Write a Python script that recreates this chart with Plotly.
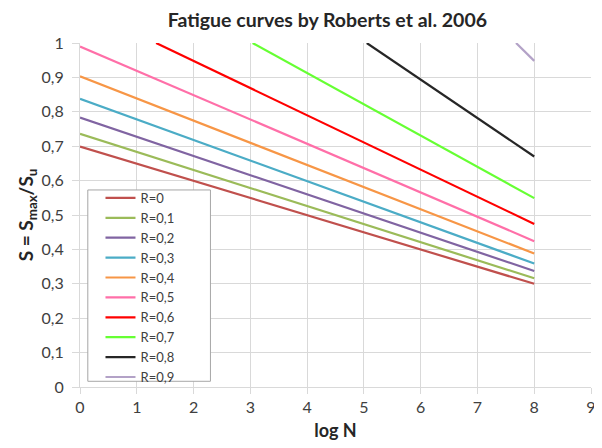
import plotly.graph_objects as go

# Data
r_labels = ["R=0", "R=0,1", "R=0,2", "R=0,3", "R=0,4", "R=0,5", "R=0,6", "R=0,7", "R=0,8", "R=0,9"]
x_start = [0, 0, 0, 0, 0, 0, 1.34, 3.04, 5.05, 7.68]
s_start = [0.699, 0.736, 0.783, 0.838, 0.903, 0.990, 1.0, 1.0, 1.0, 1.0]
x_end = [8, 8, 8, 8, 8, 8, 8, 8, 8, 8]
s_end = [0.300, 0.316, 0.337, 0.359, 0.388, 0.424, 0.474, 0.549, 0.670, 0.948]
colors = ["#C0504D", "#9BBB59", "#8064A2", "#4BACC6", "#F79646",
          "#FF6FA8", "#FF0000", "#66FF33", "#262626", "#B3A2C7"]

x_ticks = [0, 1, 2, 3, 4, 5, 6, 7, 8, 9]
y_ticks = [0, 0.1, 0.2, 0.3, 0.4, 0.5, 0.6, 0.7, 0.8, 0.9, 1]
y_ticktext = ["0", "0,1", "0,2", "0,3", "0,4", "0,5", "0,6", "0,7", "0,8", "0,9", "1"]

FONT = "Lato, 'Open Sans', sans-serif"
TXT = "#404040"
DARK = "#262626"

fig = go.Figure()
for name, xs, ys, xe, ye, c in zip(r_labels, x_start, s_start, x_end, s_end, colors):
    fig.add_trace(go.Scatter(x=[xs, xe], y=[ys, ye], mode="lines", name=name,
                             line=dict(color=c, width=2.2)))

# page body has an 8px margin; work in window pixels and convert
OFF = 8
W, H = 590, 436
PL, PR, PT, PB = 79.5, 590.7, 43.3, 386.7  # plot area in window pixels
L, T = PL - OFF, PT - OFF
R = W - (PR - OFF)
B = H - (PB - OFF)
pw, ph = PR - PL, PB - PT

def px_x(px):
    return (px - PL) / pw

def px_y(py):
    return (PB - py) / ph

fig.add_shape(type="rect", xref="paper", yref="paper",
              x0=px_x(87.3), x1=px_x(210), y0=px_y(381), y1=px_y(190),
              line=dict(color="#A6A6A6", width=1), fillcolor="white", layer="above")

fig.update_layout(
    width=W, height=H,
    margin=dict(l=L, r=R, t=T, b=B, pad=0, autoexpand=False),
    paper_bgcolor="white", plot_bgcolor="white",
    font=dict(family=FONT, size=16, color=TXT),
    title=dict(text="<b>Fatigue curves by Roberts et al. 2006</b>",
               x=px_x(327), xref="paper", xanchor="center",
               y=1 - (20 - OFF) / H, yanchor="middle",
               font=dict(family=FONT, size=19.5, color=DARK)),
    showlegend=True,
    legend=dict(x=px_x(100), y=px_y(183), xanchor="left", yanchor="top",
                bgcolor="rgba(0,0,0,0)", borderwidth=0,
                font=dict(family=FONT, size=13, color=TXT),
                tracegroupgap=0),
    xaxis=dict(range=[0, 9], tickvals=x_ticks, ticktext=[str(v) for v in x_ticks],
               showgrid=True, gridcolor="#D9D9D9", gridwidth=1,
               zeroline=False, showline=True, linecolor="#D9D9D9", linewidth=1,
               ticks="outside", ticklen=6, tickcolor="#D9D9D9",
               automargin=False,
               tickfont=dict(family=FONT, size=16, color=TXT),
               title=dict(text="<b>log N</b>", standoff=9,
                          font=dict(family=FONT, size=18, color=DARK))),
    yaxis=dict(range=[0, 1], tickvals=y_ticks, ticktext=y_ticktext,
               showgrid=True, gridcolor="#D9D9D9", gridwidth=1,
               zeroline=False, showline=True, linecolor="#D9D9D9", linewidth=1,
               ticks="outside", ticklen=7, tickcolor="#D9D9D9",
               ticklabelstandoff=5, automargin=False,
               tickfont=dict(family=FONT, size=16, color=TXT),
               title=dict(text="<b>S = S<sub>max</sub>/S<sub>u</sub></b>", standoff=2,
                          font=dict(family=FONT, size=19, color=DARK))),
)

fig.write_html("out.html")
